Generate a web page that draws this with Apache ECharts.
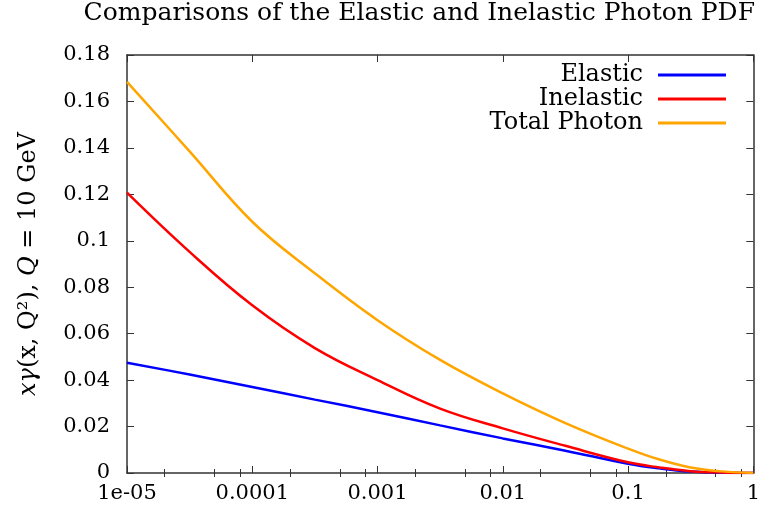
<!DOCTYPE html>
<html>
<head>
<meta charset="utf-8">
<script src="https://cdn.jsdelivr.net/npm/echarts@6/dist/echarts.min.js"></script>
<style>
  html, body { margin: 0; padding: 0; background: #fff; }
  #chart { width: 763px; height: 507px; }
</style>
</head>
<body>
<div id="chart"></div>
<script>
// x 位置（对数轴，半个十倍区间一个点）+ 三条曲线（读图估值）
const xValues = [1e-5, 3.16e-5, 1e-4, 3.16e-4, 1e-3, 3.16e-3, 1e-2, 3.16e-2, 1e-1, 0.178, 0.316, 0.562, 1]
const elastic = [0.0475, 0.0424, 0.0370, 0.0316, 0.0262, 0.0205, 0.0149, 0.0096, 0.0040, 0.0020, 0.0006, 0.0001, 0]
const inelastic = [0.1207, 0.0952, 0.0722, 0.0538, 0.0400, 0.0277, 0.0192, 0.0117, 0.0046, 0.0024, 0.0008, 0.0002, 0]
const totalPhoton = [0.1684, 0.1385, 0.1082, 0.0860, 0.0658, 0.0487, 0.0343, 0.0215, 0.0105, 0.0058, 0.0024, 0.0007, 0]

const xTickLabels = ['1e-05', '0.0001', '0.001', '0.01', '0.1', '1']
const yTickLabels = ['0', '0.02', '0.04', '0.06', '0.08', '0.1', '0.12', '0.14', '0.16', '0.18']
const seriesNames = ['Elastic', 'Inelastic', 'Total Photon']
const seriesColors = ['#0000ff', '#ff0000', '#ffa500']

// 次刻度：每个十倍区间内 2、5、8
const xMinorTicks = []
for (let e = -5; e < 0; e++) {
  [2, 5, 8].forEach(m => xMinorTicks.push(m * Math.pow(10, e)))
}

const FONT = 'DejaVu Serif'
const axisColor = '#333'

const chart = echarts.init(document.getElementById('chart'))

const xBase = {
  type: 'log',
  logBase: 10,
  min: 1e-5,
  max: 1,
  gridIndex: 0,
  splitLine: { show: false },
}

const xLabel = v => xTickLabels[Math.round(Math.log10(v)) + 5]

const option = {
  animation: false,
  title: {
    text: 'Comparisons of the Elastic and Inelastic Photon PDF',
    right: 8,
    top: 1,
    padding: 0,
    textStyle: { fontFamily: FONT, fontSize: 25, fontWeight: 'normal', color: '#000' },
  },
  legend: {
    data: seriesNames.map(n => ({ name: n, icon: 'rect' })),
    orient: 'vertical',
    right: 37,
    top: 63,
    padding: 0,
    align: 'right',
    itemWidth: 68,
    itemHeight: 3,
    itemGap: 0,
    textStyle: { fontFamily: FONT, fontSize: 24, lineHeight: 24, color: '#000', padding: [0, 10, 0, 0] },
  },
  grid: { left: 127, right: 8, top: 55, bottom: 34 },
  xAxis: [
    {
      ...xBase,
      position: 'bottom',
      axisLine: { show: true, onZero: false, lineStyle: { color: axisColor, width: 1.5 } },
      axisTick: { inside: true, length: 7, lineStyle: { color: axisColor } },
      axisLabel: { formatter: xLabel, fontFamily: FONT, fontSize: 21, color: '#000', margin: 10 },
    },
    {
      ...xBase,
      position: 'top',
      axisLine: { show: true, onZero: false, lineStyle: { color: axisColor, width: 1.5 } },
      axisTick: { inside: true, length: 7, lineStyle: { color: axisColor } },
      axisLabel: { show: false },
    },
    {
      ...xBase,
      position: 'bottom',
      axisLine: { show: false },
      axisTick: { inside: true, length: 4, customValues: xMinorTicks, lineStyle: { color: axisColor } },
      axisLabel: { show: false },
    },
    {
      ...xBase,
      position: 'top',
      axisLine: { show: false },
      axisTick: { inside: true, length: 4, customValues: xMinorTicks, lineStyle: { color: axisColor } },
      axisLabel: { show: false },
    },
  ],
  yAxis: [
    {
      type: 'value',
      min: 0,
      max: 0.18,
      interval: 0.02,
      position: 'left',
      name: '{i|xγ}(x, Q²), {i|Q} = 10 GeV',
      nameLocation: 'middle',
      nameRotate: 90,
      nameGap: 86,
      nameTextStyle: {
        fontFamily: FONT, fontSize: 24, color: '#000',
        rich: { i: { fontFamily: FONT, fontSize: 24, fontStyle: 'italic', color: '#000' } },
      },
      axisLine: { show: true, lineStyle: { color: axisColor, width: 1.5 } },
      axisTick: { inside: true, length: 7, lineStyle: { color: axisColor } },
      axisLabel: {
        formatter: (v, i) => yTickLabels[i],
        fontFamily: FONT, fontSize: 21, color: '#000', margin: 17,
      },
      splitLine: { show: false },
    },
    {
      type: 'value',
      min: 0,
      max: 0.18,
      interval: 0.02,
      position: 'right',
      axisLine: { show: true, lineStyle: { color: axisColor, width: 1.5 } },
      axisTick: { inside: true, length: 7, lineStyle: { color: axisColor } },
      axisLabel: { show: false },
      splitLine: { show: false },
    },
  ],
  series: [elastic, inelastic, totalPhoton].map((ys, k) => ({
    name: seriesNames[k],
    type: 'line',
    xAxisIndex: 0,
    yAxisIndex: 0,
    data: xValues.map((x, j) => [x, ys[j]]),
    smooth: 0.4,
    symbol: 'none',
    lineStyle: { color: seriesColors[k], width: 2.5 },
    itemStyle: { color: seriesColors[k] },
  })),
}

chart.setOption(option)
</script>
</body>
</html>
